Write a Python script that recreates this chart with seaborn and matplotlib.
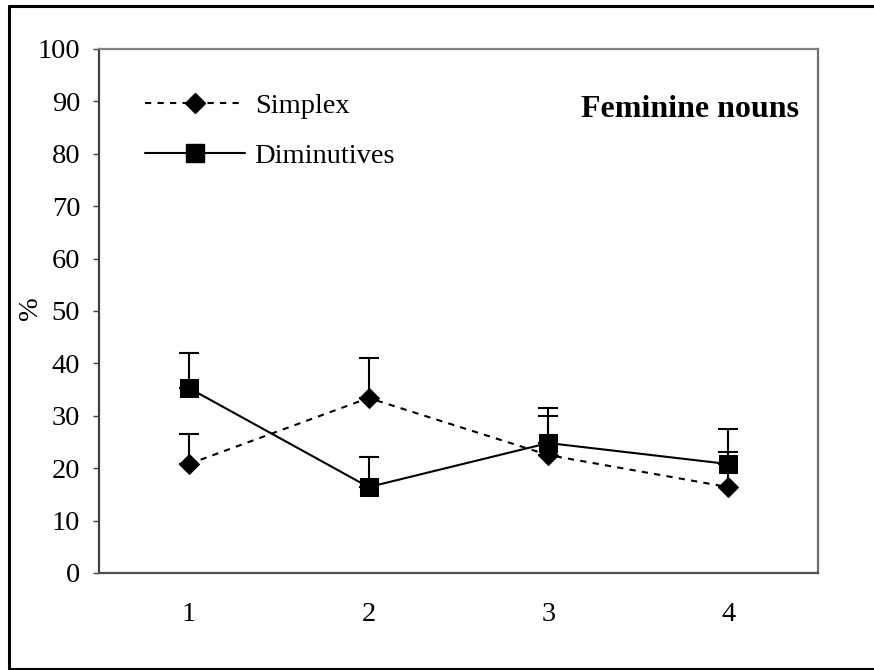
import matplotlib
matplotlib.use("Agg")
import matplotlib.pyplot as plt
import matplotlib.transforms as mtransforms
from matplotlib.lines import Line2D
import seaborn as sns
import pandas as pd

categories = [1, 2, 3, 4]
simplex = [20.8, 33.4, 22.5, 16.4]
simplex_err = [5.7, 7.6, 7.5, 6.7]
diminutives = [35.3, 16.4, 24.8, 20.8]
diminutives_err = [6.7, 5.7, 6.7, 6.7]
series_names = ["Simplex", "Diminutives"]
yticks = [0, 10, 20, 30, 40, 50, 60, 70, 80, 90, 100]

df = pd.DataFrame({
    "x": categories * 2,
    "value": simplex + diminutives,
    "series": [series_names[0]] * 4 + [series_names[1]] * 4,
})

sns.set_theme(style="white")
plt.rcParams["font.family"] = ["Liberation Serif", "DejaVu Serif"]
plt.rcParams["text.color"] = "black"
plt.rcParams["axes.labelcolor"] = "black"
plt.rcParams["xtick.color"] = "black"
plt.rcParams["ytick.color"] = "black"

fig = plt.figure(figsize=(8.74, 6.7), dpi=100)
ax = fig.add_axes([99 / 874, 1 - 573 / 670, 719 / 874, 524 / 670])

# error bars (upper only), drawn behind markers
ax.errorbar(categories, simplex, yerr=[[0] * 4, simplex_err], fmt="none",
            ecolor="black", elinewidth=1.5, capsize=7.2, capthick=1.5, zorder=1)
ax.errorbar(categories, diminutives, yerr=[[0] * 4, diminutives_err], fmt="none",
            ecolor="black", elinewidth=1.5, capsize=7.2, capthick=1.5, zorder=1)

sns.lineplot(data=df, x="x", y="value", style="series",
             markers={"Simplex": "D", "Diminutives": "s"},
             dashes={"Simplex": (3, 3), "Diminutives": ""},
             color="black", linewidth=1.5, markersize=12.5,
             markeredgecolor="black", errorbar=None, legend=False,
             ax=ax, zorder=3)
for ln in ax.get_lines():
    if ln.get_marker() == "D":
        ln.set_markersize(10.5)

ax.set_xlim(0.5, 4.5)
ax.set_ylim(0, 100)
ax.set_xticks(categories)
ax.set_xticklabels([str(c) for c in categories])
ax.set_yticks(yticks)
ax.set_yticklabels([str(t) for t in yticks])
ax.tick_params(axis="y", direction="out", length=4.5, width=1, color="#404040",
               labelcolor="black", labelsize=20.5, pad=9, left=True)
ax.tick_params(axis="x", length=0, labelsize=20.5, labelcolor="black", pad=21)
ax.set_xlabel("")
ax.set_ylabel("%", fontsize=20.5, color="black")
ax.yaxis.set_label_coords(-56 / 719, 0.505)

for side, col in [("left", "#404040"), ("bottom", "#505050"),
                  ("top", "#808080"), ("right", "#707070")]:
    ax.spines[side].set_visible(True)
    ax.spines[side].set_color(col)
    ax.spines[side].set_linewidth(1.6)

handles = [
    Line2D([], [], color="black", linestyle=(0, (3, 3)), linewidth=1.5,
           marker="D", markersize=10.5, markerfacecolor="black"),
    Line2D([], [], color="black", linestyle="-", linewidth=1.5,
           marker="s", markersize=12.5, markerfacecolor="black"),
]
ax.legend(handles, series_names, loc="upper left", bbox_to_anchor=(0.064, 0.916),
          frameon=False, fontsize=20.5, handlelength=3.5, handletextpad=0.35,
          labelspacing=0.85, borderpad=0, borderaxespad=0)

trans = mtransforms.blended_transform_factory(ax.transAxes, ax.transData)
ax.text(0.9736, 87.0, "Feminine nouns", transform=trans, ha="right",
        va="baseline", fontsize=23, fontweight="bold", color="black")

# outer frame (top, left, bottom)
fig.add_artist(Line2D([9 / 874, 1.0], [1 - 6.3 / 670] * 2, color="black",
                      linewidth=2.2, transform=fig.transFigure))
fig.add_artist(Line2D([9 / 874] * 2, [1 - 6.3 / 670, 1 - 669 / 670], color="black",
                      linewidth=2.2, transform=fig.transFigure))
fig.add_artist(Line2D([9 / 874, 1.0], [1 - 669 / 670] * 2, color="black",
                      linewidth=2.2, transform=fig.transFigure))

fig.savefig("out.png", dpi=100)
